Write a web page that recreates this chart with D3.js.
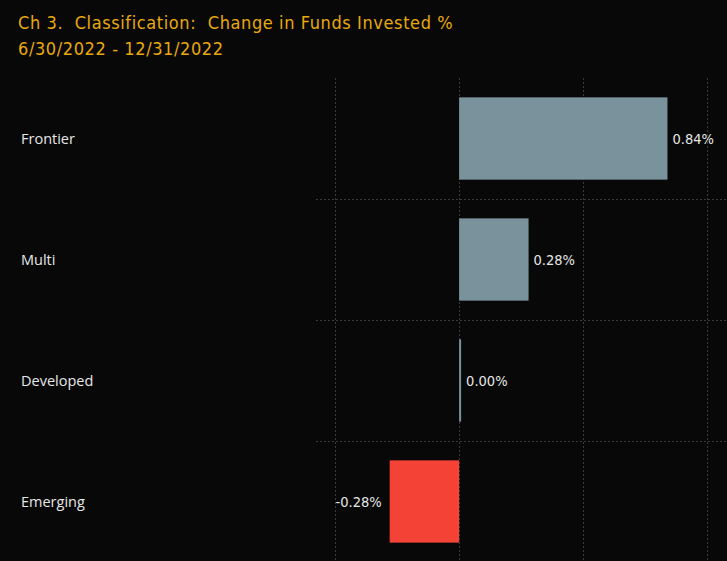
<!DOCTYPE html>
<html>
<head>
<meta charset="utf-8">
<script src="https://cdn.jsdelivr.net/npm/d3@7/dist/d3.min.js"></script>
<style>
  html, body { margin: 0; padding: 0; background: #080808; }
  svg { display: block; }
  text { white-space: pre; }
</style>
</head>
<body>
<svg id="chart" width="727" height="561"></svg>
<script>
var categories = ['Frontier', 'Multi', 'Developed', 'Emerging'];
var values = [0.84, 0.28, 0.00, -0.28];
var xTicks = [-0.5, 0, 0.5, 1.0];
var titleLines = ['Ch 3.  Classification:  Change in Funds Invested %', '6/30/2022 - 12/31/2022'];

var width = 727, height = 561;
var margin = {top: 78, right: 0, bottom: -1, left: 316};

var svg = d3.select('#chart');
svg.append('rect').attr('width', width).attr('height', height).attr('fill', '#080808');

var x = d3.scaleLinear()
    .domain([-0.577, 1.08])
    .range([margin.left, width - margin.right]);

var y = d3.scaleBand()
    .domain(categories)
    .range([margin.top, height - margin.bottom])
    .paddingInner(0.32)
    .paddingOuter(0.16);

var step = y.step();
var fmt = function (v) { return d3.format('.2f')(v).replace('\u2212', '-') + '%'; };

// grid
var grid = svg.append('g').attr('class', 'grid');
grid.selectAll('line.v').data(xTicks).enter().append('line')
    .attr('class', 'v')
    .attr('x1', function (d) { return Math.round(x(d)) + 0.5; })
    .attr('x2', function (d) { return Math.round(x(d)) + 0.5; })
    .attr('y1', margin.top)
    .attr('y2', height);
grid.selectAll('line.h').data(categories.slice(1)).enter().append('line')
    .attr('class', 'h')
    .attr('x1', margin.left)
    .attr('x2', width)
    .attr('y1', function (d) { return Math.round(y(d) - y.paddingInner() * step / 2) + 0.5; })
    .attr('y2', function (d) { return Math.round(y(d) - y.paddingInner() * step / 2) + 0.5; });
grid.selectAll('line')
    .attr('stroke', '#3a3a3a')
    .attr('stroke-width', 1)
    .attr('stroke-dasharray', '2,2');

// bars
var rows = categories.map(function (c, i) { return {cat: c, val: values[i]}; });
svg.append('g').selectAll('rect').data(rows).enter().append('rect')
    .attr('x', function (d) { return d.val < 0 ? x(d.val) : x(0); })
    .attr('y', function (d) { return y(d.cat); })
    .attr('width', function (d) { return Math.max(2, Math.abs(x(d.val) - x(0))); })
    .attr('height', y.bandwidth())
    .attr('fill', function (d) { return d.val < 0 ? '#f44336' : '#7a929c'; });

// value labels
svg.append('g').selectAll('text').data(rows).enter().append('text')
    .attr('x', function (d) {
        if (d.val < 0) return x(d.val) - 8;
        return Math.max(x(d.val), x(0) + 2) + 5;
    })
    .attr('y', function (d) { return y(d.cat) + y.bandwidth() / 2; })
    .attr('dy', '0.35em')
    .attr('text-anchor', function (d) { return d.val < 0 ? 'end' : 'start'; })
    .attr('fill', '#e6e6e6')
    .attr('font-family', '"DejaVu Sans Condensed", "DejaVu Sans", sans-serif')
    .attr('font-size', 14.5)
    .text(function (d) { return fmt(d.val); });

// category labels
svg.append('g').selectAll('text').data(categories).enter().append('text')
    .attr('x', 21)
    .attr('y', function (d) { return y(d) + y.bandwidth() / 2; })
    .attr('dy', '0.35em')
    .attr('fill', '#e6e6e6')
    .attr('font-family', '"Open Sans", "Noto Sans", sans-serif')
    .attr('font-size', 14.5)
    .text(function (d) { return d; });

// title
svg.append('g').selectAll('text').data(titleLines).enter().append('text')
    .attr('x', 18)
    .attr('y', function (d, i) { return 29 + i * 26; })
    .attr('fill', '#e8a90e')
    .attr('font-family', '"DejaVu Sans Condensed", "DejaVu Sans", sans-serif')
    .attr('font-size', 18)
    .attr('letter-spacing', 0.6)
    .text(function (d) { return d; });
</script>
</body>
</html>
